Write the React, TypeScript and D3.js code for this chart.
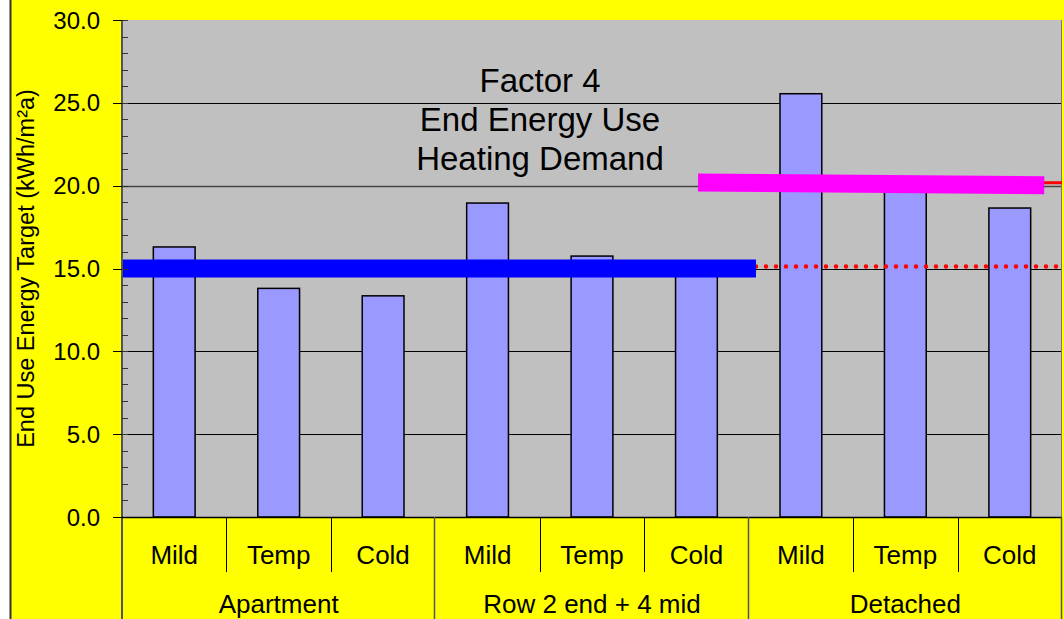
import React from "react";
import * as d3 from "d3";

const groups = ["Apartment", "Row 2 end + 4 mid", "Detached"];
const climates = ["Mild", "Temp", "Cold"];
const values = [16.3, 13.8, 13.35, 18.95, 15.75, 15.0, 25.55, 20.0, 18.65];
const yTicks = [0, 5, 10, 15, 20, 25, 30];
const minorTicks = d3.range(0, 31, 1);
const titleLines = ["Factor 4", "End Energy Use", "Heating Demand"];
// target lines: [startIndex, endIndex, startValue, endValue]
const blueTarget = [0, 6.07, 15.0, 15.0];
const magentaTarget = [5.515, 8.83, 20.19, 20.03];
const redDotted = [6.07, 9, 15.12, 15.12];
const redSolid = [5.515, 9, 20.17, 20.17];

const W = 1064;
const H = 619;
const plotL = 122;
const plotR = 1062;
const plotT = 20;
const plotB = 517;
const FONT = "'Liberation Sans', Arial, sans-serif";

export default function App() {
  const cats = d3.range(values.length);
  const x = d3.scaleBand<number>().domain(cats).range([plotL, plotR]).padding(0);
  const xi = d3.scaleLinear().domain([0, values.length]).range([plotL, plotR]);
  const y = d3.scaleLinear().domain([0, 30]).range([plotB, plotT]);
  const barW = x.bandwidth() * 0.4;

  const seg = (s: number[]) => ({ x1: xi(s[0]), x2: xi(s[1]), y1: y(s[2]), y2: y(s[3]) });
  const blue = seg(blueTarget);
  const mag = seg(magentaTarget);
  const rd = seg(redDotted);
  const rs = seg(redSolid);

  return (
    <svg
      width={W}
      height={H}
      style={{ position: "absolute", left: 0, top: 0, background: "#fff" }}
      fontFamily={FONT}
    >
      <rect x={10} y={0} width={W - 10} height={H} fill="#FFFF00" />
      <line x1={10.5} x2={10.5} y1={0} y2={H} stroke="#333" strokeWidth={2} />
      <rect x={plotL} y={plotT} width={plotR - plotL} height={plotB - plotT} fill="#C0C0C0" />
      {/* gridlines */}
      {yTicks.filter((t) => t > 0 && t < 30).map((t) => (
        <line key={"g" + t} x1={plotL} x2={plotR} y1={Math.round(y(t)) + 0.5} y2={Math.round(y(t)) + 0.5}
          stroke={t === 20 ? "#444" : "#000"} strokeWidth={t === 20 ? 1.5 : 1} />
      ))}
      <line x1={plotR - 0.5} x2={plotR - 0.5} y1={plotT} y2={plotB} stroke="#777" strokeWidth={1} />
      {/* title */}
      {titleLines.map((t, i) => (
        <text key={t} x={540} y={92 + i * 39} textAnchor="middle" fontSize={33} fill="#000">{t}</text>
      ))}
      {/* bars */}
      {values.map((v, i) => (
        <rect key={"b" + i} x={x(i)! + x.bandwidth() / 2 - barW / 2} y={y(v)} width={barW} height={plotB - y(v)}
          fill="#9999FF" stroke="#000" strokeWidth={1.5} />
      ))}
      {/* target lines */}
      <line {...rs} stroke="#FF0000" strokeWidth={3} />
      <line {...rd} stroke="#FF0000" strokeWidth={4.5} strokeDasharray="0 10" strokeLinecap="round" />
      <line {...blue} stroke="#0000FF" strokeWidth={18} />
      <line {...mag} stroke="#FF00FF" strokeWidth={18} />
      {/* y axis */}
      <line x1={plotL} x2={plotL} y1={plotT} y2={H} stroke="#555" strokeWidth={2} />
      {minorTicks.map((t) => (
        <line key={"m" + t} x1={plotL} x2={plotL + 6} y1={Math.round(y(t)) + 0.5} y2={Math.round(y(t)) + 0.5} stroke="#333" strokeWidth={1} />
      ))}
      {yTicks.map((t) => (
        <g key={"t" + t}>
          <line x1={plotL - 9} x2={plotL} y1={Math.round(y(t)) + 0.5} y2={Math.round(y(t)) + 0.5} stroke="#000" strokeWidth={1} />
          <text x={100} y={y(t) + 8.5} textAnchor="end" fontSize={24} fill="#000">{t.toFixed(1)}</text>
        </g>
      ))}
      <text transform={`translate(34,${(plotT + plotB) / 2}) rotate(-90)`} textAnchor="middle" fontSize={23.5} fill="#000">
        End Use Energy Target (kWh/m²a)
      </text>
      {/* x axis */}
      <line x1={plotL} x2={plotR} y1={plotB + 0.5} y2={plotB + 0.5} stroke="#000" strokeWidth={1.5} />
      {cats.map((i) => (
        <g key={"c" + i}>
          <text x={x(i)! + x.bandwidth() / 2} y={564} textAnchor="middle" fontSize={26} fill="#000">
            {climates[i % climates.length]}
          </text>
          {i > 0 && i % 3 !== 0 && (
            <line x1={Math.round(x(i)!) + 0.5} x2={Math.round(x(i)!) + 0.5} y1={plotB} y2={572} stroke="#000" strokeWidth={1} />
          )}
        </g>
      ))}
      {groups.map((g, gi) => (
        <g key={g}>
          <text x={xi(gi * 3 + 1.5)} y={612.5} textAnchor="middle" fontSize={26} fill="#000">{g}</text>
          <line x1={Math.round(xi((gi + 1) * 3)) - 0.5} x2={Math.round(xi((gi + 1) * 3)) - 0.5} y1={plotB} y2={H} stroke="#555" strokeWidth={1.5} />
        </g>
      ))}
    </svg>
  );
}
